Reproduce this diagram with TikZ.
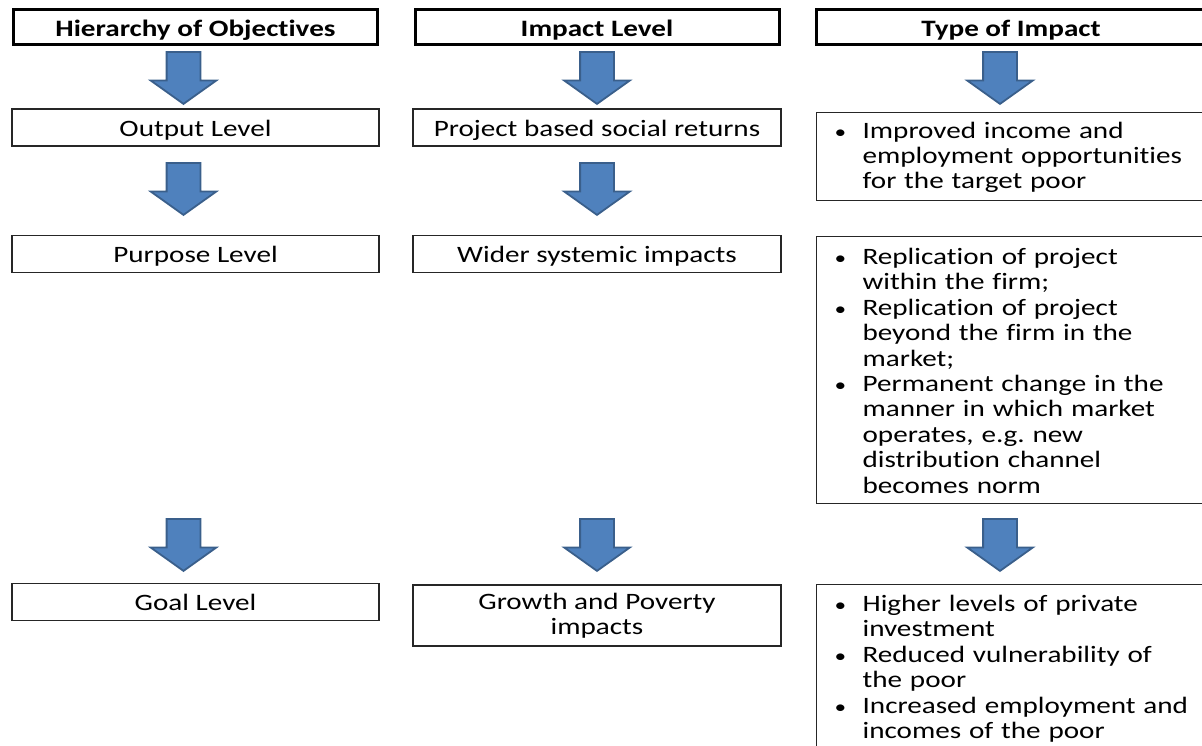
\documentclass[tikz,border=0pt]{standalone}
\usepackage{fontspec}
\setmainfont{Carlito}[FakeStretch=1.24,Ligatures=NoCommon]
\usepackage{tikz}
\usetikzlibrary{shapes.arrows,positioning}
\definecolor{flowfill}{HTML}{4F81BD}
\definecolor{flowedge}{HTML}{3A5F8B}
\newcommand{\diagfont}{\fontsize{23.5pt}{25.4pt}\selectfont}
% bullet with the following lines hung under the text
\newcommand{\bitem}[1]{\par\noindent
  \makebox[29pt][l]{\hspace{1pt}\scalebox{0.8}{\textbullet}}%
  \parbox[t]{330pt}{#1\par\xdef\bdepth{\the\prevdepth}}\par
  \prevdepth=\bdepth\relax}
\tikzset{
  header/.style={rectangle,draw,line width=3pt,font=\diagfont\bfseries,
    minimum height=35,minimum width=364,inner sep=0,text height=22,text depth=3},
  level/.style={rectangle,draw=black!85,line width=1.2pt,align=center,
    minimum height=37,minimum width=367,inner sep=0},
  oneline/.style={text height=20,text depth=3},
  impact/.style={rectangle,draw=black!85,line width=1.2pt,align=left,
    text width=360,inner xsep=17,inner ysep=0,anchor=north west,
    execute at end node={\par\vspace{8pt}}},
  flow/.style={single arrow,draw=flowedge,fill=flowfill,line width=1.8pt,
    shape border rotate=270,minimum height=52,minimum width=65,inner sep=16,
    single arrow head extend=16,single arrow tip angle=109,anchor=tail},
}

\begin{document}
\begin{tikzpicture}[x=1pt,y=-1pt,font=\diagfont]
\useasboundingbox (0,0) rectangle (1202,745);
\clip (0,0) rectangle (1202,745);
% column heads
\node[header] (hier) at (195.5,26.5) {Hierarchy of Objectives};
\node[header] (lvl) at (597,26.5) {Impact Level};
\node[header,minimum width=390] (type) at (1011,26.5) {Type of Impact};

\node[flow] (f11) at (183.5,51) {};
\node[flow] (f12) at (597,51) {};
\node[flow] (f13) at (1000,51) {};

% output row
\node[level,oneline] (output) at (195.5,127.5) {Output Level};
\node[level,oneline,minimum width=368] (returns) at (597,127.5) {Project based social returns};
\node[impact,minimum height=88] (income) at (816,112) {%
  \bitem{Improved income and\\employment opportunities\\for the target poor}};

\node[flow] (f21) at (183.5,162) {};
\node[flow] (f22) at (597,162) {};

% purpose row
\node[level,oneline] (purpose) at (195.5,254) {Purpose Level};
\node[level,oneline,minimum width=368] (wider) at (597,254) {Wider systemic impacts};
\node[impact,minimum height=267] (replic) at (816,236) {%
  \bitem{Replication of project\\within the firm;}
  \bitem{Replication of project\\beyond the firm in the\\market;}
  \bitem{Permanent change in the\\manner in which market\\
    operates, e.g.\ new\\distribution channel\\becomes norm}};

\node[flow] (f31) at (183.5,518) {};
\node[flow] (f32) at (597,518) {};
\node[flow] (f33) at (1000,518) {};

% goal row
\node[level,oneline] (goal) at (195.5,602) {Goal Level};
\node[level,minimum width=368,minimum height=61] (growth) at (597,615.5) {Growth and Poverty\\impacts};
\node[impact,minimum height=167] (invest) at (816,584) {%
  \bitem{Higher levels of private\\investment}
  \bitem{Reduced vulnerability of\\the poor}
  \bitem{Increased employment and\\incomes of the poor}};
\end{tikzpicture}
\end{document}
